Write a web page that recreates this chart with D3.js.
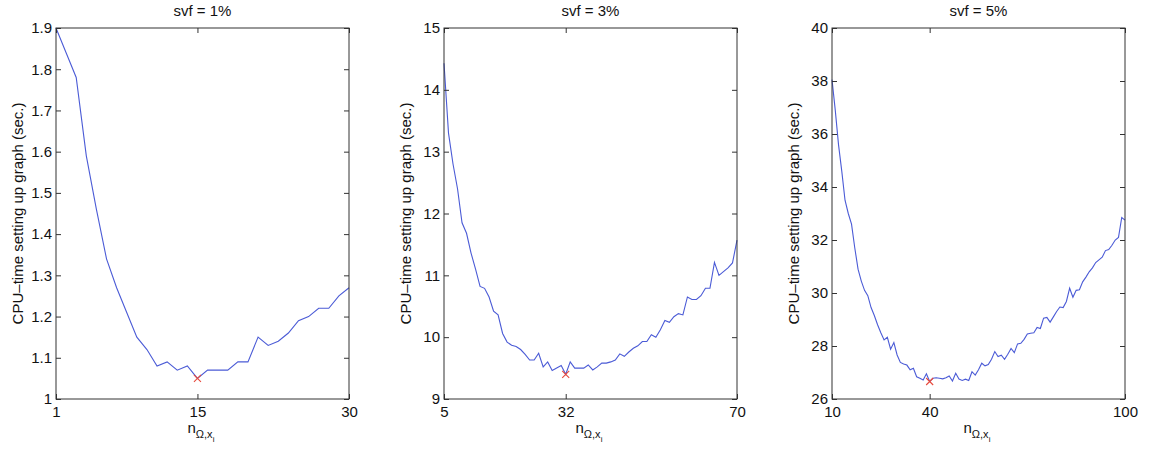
<!DOCTYPE html>
<html>
<head>
  <meta charset="utf-8">
  <script src="https://d3js.org/d3.v7.min.js"></script>
  <style>
  body { margin: 0; background: #fff; }
  text { font-family: "Liberation Sans", Arial, sans-serif; fill: #111; }
  </style>
</head>
<body>
<div id="chart"></div>
<script>
// panel titles and axis settings
var titles = ["svf = 1%", "svf = 3%", "svf = 5%"];
var xDomains = [[1, 30], [5, 70], [10, 100]];
var yDomains = [[1, 1.9], [9, 15], [26, 40]];
var xTicks = [[1, 15, 30], [5, 32, 70], [10, 40, 100]];
var yTicks = [
  [1, 1.1, 1.2, 1.3, 1.4, 1.5, 1.6, 1.7, 1.8, 1.9],
  [9, 10, 11, 12, 13, 14, 15],
  [26, 28, 30, 32, 34, 36, 38, 40]
];

// cpu time, svf = 1%, n = 1..30
var start1 = 1;
var cpu1 = [1.9, 1.84, 1.78, 1.59, 1.46, 1.34, 1.27, 1.21, 1.15, 1.12,
  1.08, 1.09, 1.07, 1.08, 1.05, 1.07, 1.07, 1.07, 1.09, 1.09,
  1.15, 1.13, 1.14, 1.16, 1.19, 1.20, 1.22, 1.22, 1.25, 1.27];

// svf = 3%, n = 5..70
var start2 = 5;
var cpu2 = [14.43, 13.3, 12.8, 12.4, 11.85, 11.68, 11.36, 11.1, 10.82, 10.79,
  10.65, 10.42, 10.36, 10.06, 9.92, 9.87, 9.85, 9.80, 9.72, 9.63,
  9.63, 9.74, 9.52, 9.60, 9.46, 9.50, 9.54, 9.40, 9.60, 9.50,
  9.50, 9.50, 9.55, 9.47, 9.52, 9.58, 9.58, 9.60, 9.63, 9.73,
  9.69, 9.76, 9.82, 9.86, 9.93, 9.93, 10.04, 10.0, 10.12, 10.27,
  10.24, 10.33, 10.38, 10.36, 10.65, 10.61, 10.61, 10.67, 10.79, 10.79,
  11.21, 11.0, 11.06, 11.12, 11.2, 11.57];

// svf = 5%, n = 10..100
var start3 = 10;
var cpu3 = [38.05, 36.9, 35.6, 34.6, 33.5, 33.0, 32.6, 31.7, 30.9, 30.45,
  30.1, 29.9, 29.45, 29.15, 28.8, 28.5, 28.23, 28.33, 27.88, 28.13,
  27.66, 27.38, 27.32, 27.28, 27.10, 27.16, 26.84, 26.78, 26.72, 26.95,
  26.66, 26.78, 26.80, 26.78, 26.76, 26.80, 26.87, 26.68, 26.97, 26.75,
  26.70, 26.75, 26.70, 27.03, 26.90, 27.10, 27.35, 27.25, 27.30, 27.50,
  27.79, 27.60, 27.65, 27.50, 27.69, 27.91, 27.75, 28.08, 28.10, 28.25,
  28.45, 28.48, 28.50, 28.70, 28.66, 29.05, 29.08, 28.90, 29.10, 29.30,
  29.47, 29.45, 29.68, 30.18, 29.84, 30.10, 30.12, 30.42, 30.60, 30.80,
  30.95, 31.15, 31.25, 31.35, 31.60, 31.64, 31.80, 32.0, 32.10, 32.85,
  32.75];

// minimum markers
var minN = [15, 32, 40];
var minCpu = [1.05, 9.4, 26.66];

var series = [[start1, cpu1], [start2, cpu2], [start3, cpu3]];

var W = 1151, H = 452;
var lefts = [56, 444, 832];
var pw = 293, plotTop = 28, plotBottom = 399;
var ph = plotBottom - plotTop;

var svg = d3.select("#chart").append("svg")
  .attr("width", W)
  .attr("height", H);

series.forEach(function(s, i) {
  var g = svg.append("g")
    .attr("transform", "translate(" + lefts[i] + "," + plotTop + ")");

  var x = d3.scaleLinear().domain(xDomains[i]).range([0, pw]);
  var y = d3.scaleLinear().domain(yDomains[i]).range([ph, 0]);

  var pts = s[1].map(function(v, k) { return [s[0] + k, v]; });

  // line
  g.append("path")
    .datum(pts)
    .attr("fill", "none")
    .attr("stroke", "#4b5bd6")
    .attr("stroke-width", 1.1)
    .attr("d", d3.line()
      .x(function(d) { return x(d[0]); })
      .y(function(d) { return y(d[1]); }));

  // red cross at min
  var mx = x(minN[i]), my = y(minCpu[i]);
  g.append("path")
    .attr("d", "M" + (mx - 3.5) + "," + (my - 3.5) + "L" + (mx + 3.5) + "," + (my + 3.5) +
      "M" + (mx - 3.5) + "," + (my + 3.5) + "L" + (mx + 3.5) + "," + (my - 3.5))
    .attr("stroke", "#e8493c")
    .attr("stroke-width", 1.1);

  // axes, ticks inward like matlab
  var fmt = function(d) { return String(d); };
  var ax = [
    g.append("g").attr("transform", "translate(0," + ph + ")")
      .call(d3.axisBottom(x).tickValues(xTicks[i]).tickSize(-5).tickPadding(7).tickFormat(fmt)),
    g.append("g")
      .call(d3.axisTop(x).tickValues(xTicks[i]).tickSize(-5).tickFormat("")),
    g.append("g")
      .call(d3.axisLeft(y).tickValues(yTicks[i]).tickSize(-5).tickPadding(4).tickFormat(fmt)),
    g.append("g").attr("transform", "translate(" + pw + ",0)")
      .call(d3.axisRight(y).tickValues(yTicks[i]).tickSize(-5).tickFormat(""))
  ];
  ax.forEach(function(a) {
    a.select(".domain").remove();
    a.selectAll("line").attr("stroke", "#333");
    a.selectAll("text").style("font-size", "15px").attr("fill", "#111");
  });

  g.append("rect")
    .attr("width", pw).attr("height", ph)
    .attr("fill", "none")
    .attr("stroke", "#333")
    .attr("stroke-width", 1);

  // title
  svg.append("text")
    .attr("x", lefts[i] + pw / 2)
    .attr("y", 16)
    .attr("text-anchor", "middle")
    .style("font-size", "15px")
    .text(titles[i]);

  // y label
  svg.append("text")
    .attr("transform", "translate(" + (lefts[i] - 38) + "," + (plotTop + ph / 2) + ") rotate(-90)")
    .attr("dy", "0.35em")
    .attr("text-anchor", "middle")
    .style("font-size", "15px")
    .text("CPU\u2013time setting up graph (sec.)");

  // x label n_{Omega,x_i}
  var xl = svg.append("text")
    .attr("x", lefts[i] + pw / 2 - 15)
    .attr("y", 433)
    .style("font-size", "15px");
  xl.append("tspan").text("n");
  xl.append("tspan").attr("dy", 5).style("font-size", "11px").text("\u03a9,x");
  xl.append("tspan").attr("dy", 4).style("font-size", "8px").text("i");
});
</script>
</body>
</html>
